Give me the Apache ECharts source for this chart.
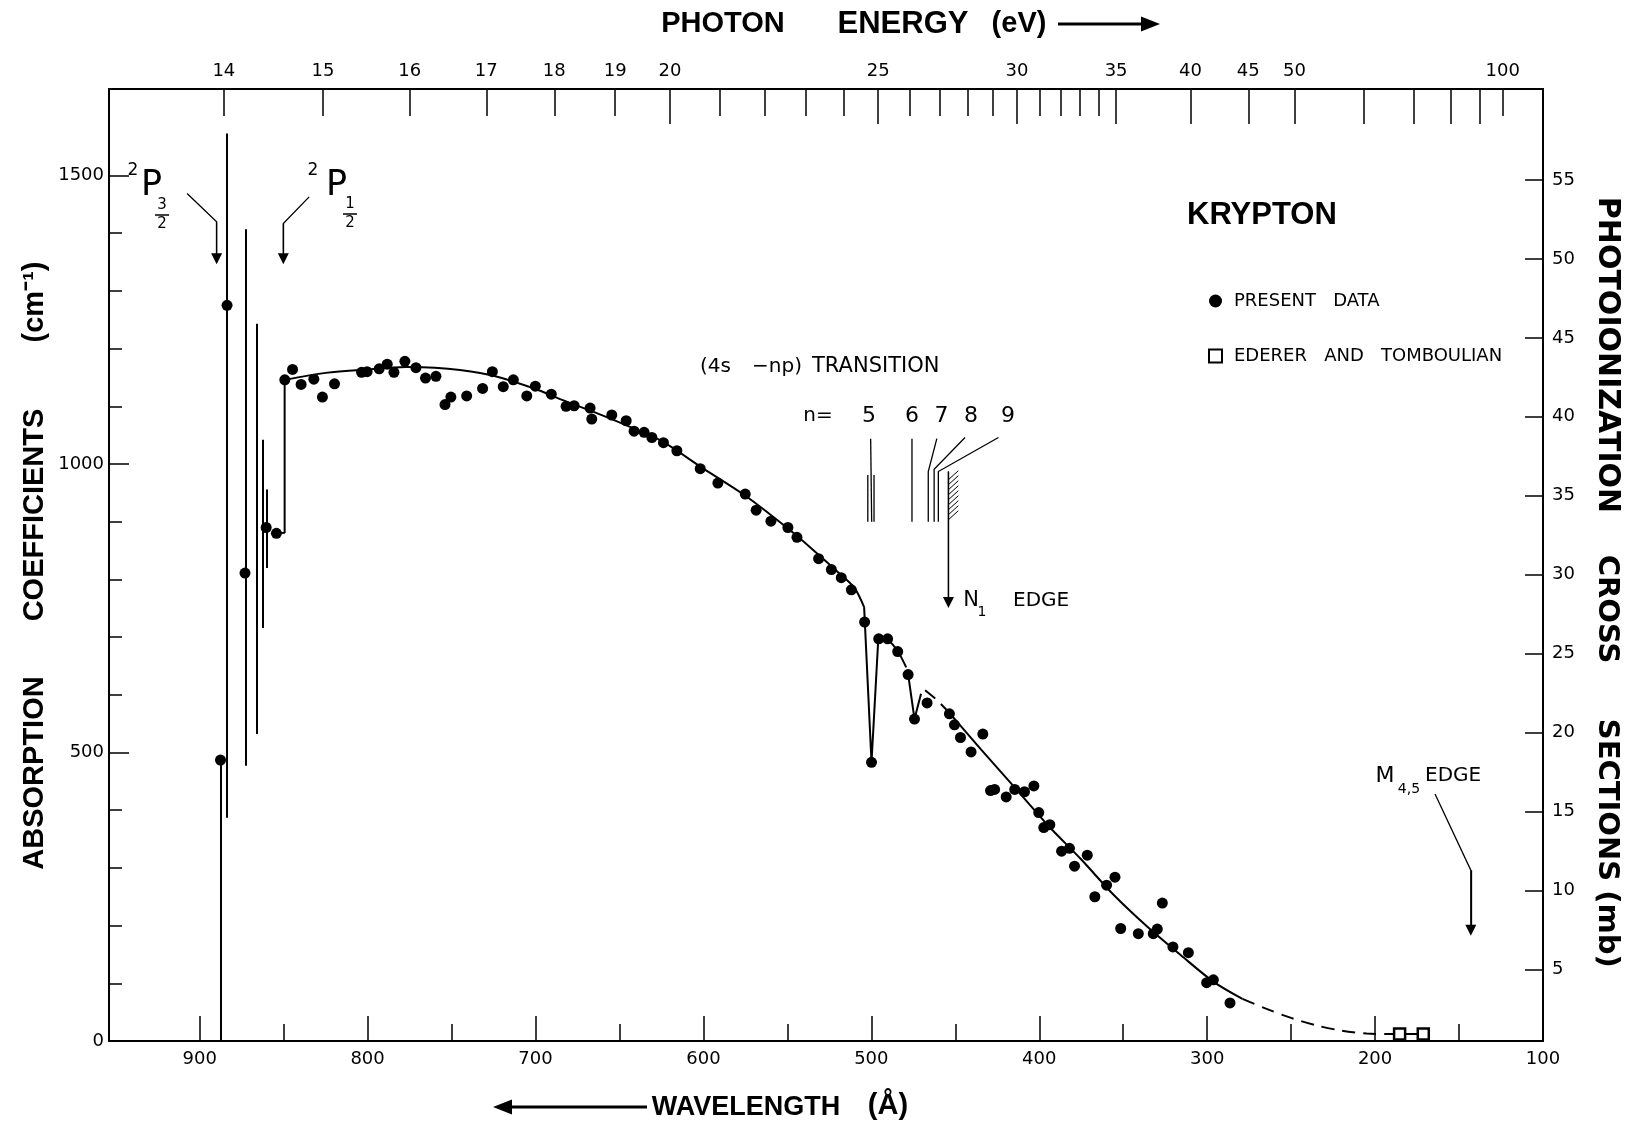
<!DOCTYPE html>
<html>
<head>
<meta charset="utf-8">
<script src="https://cdn.jsdelivr.net/npm/echarts@6/dist/echarts.min.js"></script>
<style>
  html, body { margin: 0; padding: 0; background: #fff; }
  #chart { width: 1633px; height: 1127px; }
</style>
</head>
<body>
<div id="chart"></div>
<script>
// Krypton photoabsorption, 100–954 Å

const HC = 12398.4; // eV·Å, photon energy <-> wavelength

// axis ticks
const wavelengthLabels = [100, 200, 300, 400, 500, 600, 700, 800, 900];
const wavelengthMinor = [150, 250, 350, 450, 550, 650, 750, 850];
const absLabels = [0, 500, 1000, 1500];
const absMinor = [100, 200, 300, 400, 600, 700, 800, 900, 1100, 1200, 1300, 1400];
const crossLabels = [5, 10, 15, 20, 25, 30, 35, 40, 45, 50, 55];
const energyLabels = [14, 15, 16, 17, 18, 19, 20, 25, 30, 35, 40, 45, 50, 100];
const energyLongTicks = [20, 25, 30, 35, 40, 45, 50, 60, 70, 80, 90];
const energyShortTicks = [14, 15, 16, 17, 18, 19, 21, 22, 23, 24, 26, 27, 28, 29, 31, 32, 33, 34, 100];

// measured absorption coefficients [wavelength Å, cm^-1]
const presentData = [
  [887.6, 487], [883.7, 1275], [873.0, 811], [860.4, 890], [854.3, 880],
  [849.3, 1146], [844.7, 1164], [839.6, 1138], [832.0, 1147], [826.9, 1116], [819.7, 1139],
  [803.6, 1159], [800.3, 1160], [793.1, 1165], [788.3, 1173], [784.3, 1159], [777.8, 1178],
  [771.2, 1167], [765.5, 1149], [759.3, 1152], [753.9, 1103], [750.4, 1116], [741.0, 1118],
  [731.5, 1131], [725.7, 1160], [719.2, 1134], [713.2, 1146], [705.2, 1118], [700.1, 1135],
  [690.6, 1121], [681.8, 1100], [677.0, 1101], [667.5, 1097], [666.5, 1078], [654.6, 1085],
  [646.0, 1075], [641.3, 1057], [635.3, 1055], [630.7, 1046], [623.8, 1037], [615.8, 1023],
  [601.9, 992], [591.4, 967], [575.1, 948], [568.6, 920], [559.8, 901], [549.7, 890],
  [544.3, 873], [531.4, 836], [523.8, 817], [517.9, 803], [511.9, 782], [504.0, 726],
  [499.9, 483], [495.6, 697], [490.3, 697], [484.3, 675], [478.1, 635], [474.3, 558],
  [466.8, 586], [453.5, 567], [450.5, 548], [446.9, 526], [440.6, 501], [433.6, 532],
  [429.0, 434], [426.6, 436], [419.7, 423], [414.6, 436], [408.8, 432], [403.2, 442],
  [400.3, 396], [397.3, 370], [393.7, 375], [386.7, 329], [382.0, 334], [379.0, 303],
  [371.4, 322], [366.9, 250], [359.9, 270], [354.9, 284], [351.5, 195], [341.0, 186],
  [332.1, 186], [329.7, 194], [326.7, 239], [320.4, 163], [311.2, 153], [300.3, 101],
  [296.3, 106], [286.4, 66]
];

// Ederer and Tomboulian
const edererData = [[185.4, 12], [171.3, 12]];

// smoothed absorption curve, piece by piece
const curveStep = [[854.3, 880], [849.4, 881], [849.4, 1146]];
const curveMain = [
  [849.4, 1146], [825, 1158], [800, 1164], [777, 1168], [760, 1167], [745, 1163],
  [725, 1153], [700, 1130], [685, 1112], [665, 1090], [645, 1066], [625, 1040],
  [600, 992], [575, 945], [550, 889], [535, 852], [520, 813], [510, 785], [504.3, 752]
];
const curveDip5 = [[504.3, 752], [499.9, 483], [495.8, 700]];
const curveGap5 = [[490.3, 697], [484.3, 676], [478.3, 642]];
const curveDip6 = [[478.3, 640], [474.3, 558], [470.4, 602]];
const curveGap6 = [[468, 608], [461, 591], [453, 567]];
const curveFall = [
  [453, 567], [434.6, 505], [414.8, 440], [394.9, 374], [375.1, 315], [355.6, 253],
  [335.6, 198], [315.8, 149], [295.9, 102], [279, 73]
];
const curveTail = [[279, 73], [265, 56], [250, 40], [235, 27], [220, 18], [205, 13], [190, 12], [171, 12]];

// autoionization structure below the 2P1/2 limit [wavelength, low, high]
const resonanceLines = [
  [887.4, 0, 487], [883.7, 387, 1573], [872.5, 477, 1407],
  [865.8, 532, 1243], [862.6, 716, 1042], [860.1, 820, 956]
];

// (4s - np) transition markers
const transitionLines = [
  [[500.4, 1044], [499.8, 900]],
  [[502.1, 981], [502.1, 900]],
  [[498.4, 981], [498.4, 900]],
  [[475.8, 1044], [475.8, 900]],
  [[461.0, 1044], [466.1, 987], [466.1, 900]],
  [[444.2, 1046], [462.6, 991], [462.6, 900]],
  [[424.3, 1046], [460.1, 987], [460.1, 900]]
];
const seriesLimitBand = [[454.1, 448.2, 900, 987]];
const pointerArrows = [
  [[454.1, 987], [454.1, 760]],                  // N1 edge
  [[907.5, 1469], [889.9, 1420], [889.9, 1356]], // 2P3/2
  [[834.8, 1463], [850.2, 1417], [850.2, 1356]], // 2P1/2
  [[164.3, 428], [143.0, 296], [143.0, 192]]     // M4,5 edge
];

const FONT = '"DejaVu Sans", sans-serif';
const TFONT = '"Liberation Sans", Arial, sans-serif';
const BLACK = '#000';

const chart = echarts.init(document.getElementById('chart'), null, { renderer: 'canvas' });

const grid = { left: 109, right: 90, top: 89, bottom: 86 };
const X_MIN = 100, X_MAX = 954;

function xAxisBase(extra) {
  return Object.assign({
    type: 'value', min: X_MIN, max: X_MAX, inverse: true,
    splitLine: { show: false },
    axisLine: { onZero: false, lineStyle: { color: BLACK, width: 2 } }
  }, extra);
}

function lineSeries(data, dashed, smooth) {
  return {
    type: 'line', data, showSymbol: false, smooth: smooth || false, silent: true, z: 3,
    lineStyle: { color: BLACK, width: 2, type: dashed ? [13, 8] : 'solid' }
  };
}

function text(str, x, y, size, opts) {
  return Object.assign({
    type: 'text', x, y, silent: true,
    style: Object.assign({
      text: str, fill: BLACK, fontSize: size, fontFamily: FONT,
      align: 'center', verticalAlign: 'middle', textAlign: 'center', textVerticalAlign: 'middle'
    }, (opts && opts.style) || {})
  }, (opts && opts.el) || {});
}
function titleWord(str, x, y, rot, size, family) {
  return text(str, x, y, size || 29, { style: { fontFamily: family || TFONT, fontWeight: 'bold' }, el: { rotation: rot || 0 } });
}
function leftText(str, x, y, size, weight, family) {
  return text(str, x, y, size, { style: { align: 'left', textAlign: 'left', fontWeight: weight || 'normal', fontFamily: family || FONT } });
}

const labelStyle = { fontSize: 18, fontFamily: FONT, color: BLACK };

const option = {
  animation: false,
  backgroundColor: '#fff',
  grid,
  legend: {
    orient: 'vertical', left: 1203, top: 287, itemGap: 37,
    itemWidth: 13, itemHeight: 13,
    data: ['PRESENT   DATA', 'EDERER   AND   TOMBOULIAN'],
    textStyle: { fontFamily: FONT, fontSize: 18, color: BLACK, padding: [0, 0, 0, 7] },
    selectedMode: false
  },
  xAxis: [
    xAxisBase({
      position: 'bottom',
      axisTick: { inside: true, length: 25, customValues: wavelengthLabels, lineStyle: { color: BLACK, width: 1.5 } },
      axisLabel: Object.assign({ customValues: wavelengthLabels, margin: 9, formatter: v => String(v) }, labelStyle)
    }),
    xAxisBase({
      position: 'bottom', axisLine: { show: false, onZero: false },
      axisTick: { inside: true, length: 17, customValues: wavelengthMinor, lineStyle: { color: BLACK, width: 1.5 } },
      axisLabel: { show: false }
    }),
    xAxisBase({
      position: 'top',
      axisTick: { inside: true, length: 35, customValues: energyLongTicks.map(e => HC / e), lineStyle: { color: BLACK, width: 1.5 } },
      axisLabel: Object.assign({
        customValues: energyLabels.map(e => HC / e), margin: 9,
        formatter: v => String(Math.round(HC / v))
      }, labelStyle)
    }),
    xAxisBase({
      position: 'top', axisLine: { show: false, onZero: false },
      axisTick: { inside: true, length: 27, customValues: energyShortTicks.map(e => HC / e), lineStyle: { color: BLACK, width: 1.5 } },
      axisLabel: { show: false }
    })
  ],
  yAxis: [
    {
      type: 'value', min: 0, max: 1650, position: 'left',
      splitLine: { show: false },
      axisLine: { onZero: false, lineStyle: { color: BLACK, width: 2 } },
      axisTick: { inside: true, length: 20, customValues: absLabels, lineStyle: { color: BLACK, width: 1.5 } },
      axisLabel: Object.assign({ customValues: absLabels, margin: 5, formatter: v => String(v) }, labelStyle)
    },
    {
      type: 'value', min: 0, max: 1650, position: 'left',
      splitLine: { show: false }, axisLine: { show: false, onZero: false },
      axisTick: { inside: true, length: 13, customValues: absMinor, lineStyle: { color: BLACK, width: 1.5 } },
      axisLabel: { show: false }
    },
    {
      type: 'value', min: 0.47, max: 60.76, position: 'right',
      splitLine: { show: false },
      axisLine: { onZero: false, lineStyle: { color: BLACK, width: 2 } },
      axisTick: { inside: true, length: 18, customValues: crossLabels, lineStyle: { color: BLACK, width: 1.5 } },
      axisLabel: Object.assign({ customValues: crossLabels, margin: 9, formatter: v => String(v) }, labelStyle)
    }
  ],
  series: [
    lineSeries(curveStep, false, false),
    lineSeries(curveMain, false, 0.3),
    lineSeries(curveDip5, false, false),
    lineSeries(curveGap5, true, 0.3),
    lineSeries(curveDip6, false, false),
    lineSeries(curveGap6, true, 0.3),
    lineSeries(curveFall, false, 0.3),
    lineSeries(curveTail, true, 0.3),
    {
      type: 'lines', coordinateSystem: 'cartesian2d', silent: true, z: 2,
      data: resonanceLines.map(r => ({ coords: [[r[0], r[1]], [r[0], r[2]]] })),
      lineStyle: { color: BLACK, width: 2, opacity: 1 }
    },
    {
      type: 'lines', coordinateSystem: 'cartesian2d', polyline: true, silent: true, z: 2,
      data: transitionLines.map(c => ({ coords: c })),
      lineStyle: { color: BLACK, width: 1.3, opacity: 1 }
    },
    // leader lines of the pointers
    {
      type: 'lines', coordinateSystem: 'cartesian2d', polyline: true, silent: true, z: 2,
      data: pointerArrows.map(c => ({ coords: c })),
      lineStyle: { color: BLACK, width: 1.3, opacity: 1 }
    },
    // arrowheads on the last leg of each pointer
    {
      type: 'lines', coordinateSystem: 'cartesian2d', silent: true, z: 2,
      symbol: ['none', 'triangle'], symbolSize: 11,
      data: pointerArrows.map(c => ({ coords: c.slice(-2) })),
      lineStyle: { color: BLACK, width: 1.3, opacity: 1 },
      itemStyle: { color: BLACK }
    },
    {
      type: 'custom', silent: true, z: 2,
      data: seriesLimitBand,
      renderItem: (params, api) => {
        const a = api.coord([api.value(0), api.value(2)]);
        const b = api.coord([api.value(1), api.value(3)]);
        const kids = [];
        for (let y = a[1] - 2; y > b[1] + 6; y -= 5) {
          kids.push({ type: 'line', shape: { x1: a[0], y1: y, x2: b[0], y2: y - 9 }, style: { stroke: BLACK, lineWidth: 1 } });
        }
        return { type: 'group', children: kids };
      }
    },
    {
      name: 'PRESENT   DATA', type: 'scatter', data: presentData, z: 5,
      symbol: 'circle', symbolSize: 11, itemStyle: { color: BLACK, opacity: 1 }
    },
    {
      name: 'EDERER   AND   TOMBOULIAN', type: 'scatter', data: edererData, z: 5,
      symbol: 'rect', symbolSize: 11, itemStyle: { color: '#fff', borderColor: BLACK, borderWidth: 2.5, opacity: 1 }
    }
  ],
  graphic: [
    // axis titles
    titleWord('PHOTON', 723, 24),
    titleWord('ENERGY', 903, 24, 0, 31),
    titleWord('(eV)', 1019, 24),
    { type: 'line', silent: true, shape: { x1: 1058, y1: 24, x2: 1146, y2: 24 }, style: { stroke: BLACK, lineWidth: 3 } },
    { type: 'polygon', silent: true, shape: { points: [[1160, 24], [1141, 16.5], [1141, 31.5]] }, style: { fill: BLACK } },

    titleWord('WAVELENGTH', 746, 1108, 0, 27),
    titleWord('(Å)', 888, 1106),
    { type: 'line', silent: true, shape: { x1: 508, y1: 1107, x2: 647, y2: 1107 }, style: { stroke: BLACK, lineWidth: 3 } },
    { type: 'polygon', silent: true, shape: { points: [[493, 1107], [512, 1099.5], [512, 1114.5]] }, style: { fill: BLACK } },

    titleWord('ABSORPTION', 35, 773, Math.PI / 2),
    titleWord('COEFFICIENTS', 35, 515, Math.PI / 2),
    titleWord('(cm⁻¹)', 35, 302, Math.PI / 2),

    titleWord('PHOTOIONIZATION', 1607, 355, -Math.PI / 2, 30, FONT),
    titleWord('CROSS', 1607, 609, -Math.PI / 2, 29, FONT),
    titleWord('SECTIONS', 1607, 800, -Math.PI / 2, 29, FONT),
    titleWord('(mb)', 1607, 929, -Math.PI / 2, 29, FONT),

    // gas label
    leftText('KRYPTON', 1187, 215, 31, 'bold', TFONT),

    // fine-structure limits
    text('2', 133, 171, 17),
    leftText('P', 141, 186, 35),
    text('3', 162, 205, 15),
    { type: 'line', silent: true, shape: { x1: 155, y1: 215, x2: 169, y2: 215 }, style: { stroke: BLACK, lineWidth: 1.5 } },
    text('2', 162, 224, 15),
    text('2', 313, 171, 17),
    leftText('P', 326, 186, 35),
    text('1', 350, 204, 15),
    { type: 'line', silent: true, shape: { x1: 343, y1: 214, x2: 357, y2: 214 }, style: { stroke: BLACK, lineWidth: 1.5 } },
    text('2', 350, 223, 15),

    // Rydberg series
    leftText('(4s', 700, 367, 20),
    leftText('−np)', 752, 367, 20),
    leftText('TRANSITION', 812, 367, 21),
    text('n=', 818, 416, 20),
    text('5', 869, 416, 22),
    text('6', 912, 416, 22),
    text('7', 941.5, 416, 22),
    text('8', 971, 416, 22),
    text('9', 1008, 416, 22),

    // edges
    text('N', 971, 601, 21),
    text('1', 982, 612, 14),
    leftText('EDGE', 1013, 601, 20),
    text('M', 1385, 776, 22),
    text('4,5', 1409, 789, 14),
    leftText('EDGE', 1425, 776, 20)
  ]
};

chart.setOption(option);
</script>
</body>
</html>
